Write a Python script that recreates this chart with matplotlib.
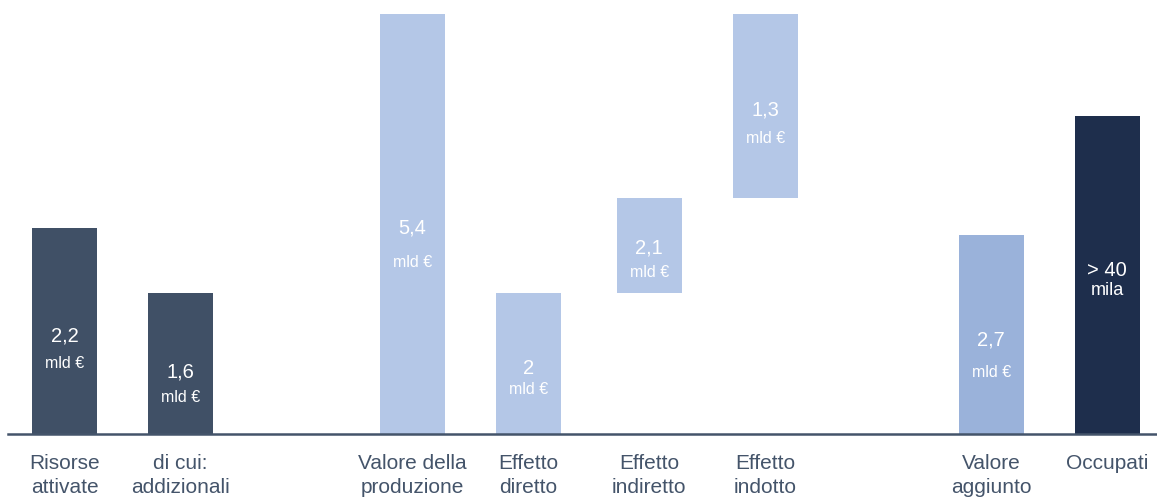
import matplotlib
matplotlib.use("Agg")
import matplotlib.pyplot as plt

# ---- data ----
categories = ["Risorse\nattivate", "di cui:\naddizionali", "Valore della\nproduzione",
              "Effetto\ndiretto", "Effetto\nindiretto", "Effetto\nindotto",
              "Valore\naggiunto", "Occupati"]
value_labels = ["2,2", "1,6", "5,4", "2", "2,1", "1,3", "2,7", "> 40"]
unit_labels = ["mld €", "mld €", "mld €", "mld €", "mld €", "mld €", "mld €", "mila"]
# drawn bar extents (visual units, baseline = 0)
bar_bottoms = [0, 0, 0, 0, 141, 236, 0, 0]
bar_heights = [206, 141, 420, 141, 95, 184, 199, 318]

# ---- layout / style ----
slots = [0, 1, 3, 4, 5.04, 6.04, 7.99, 8.99]
colors = ["#405066", "#405066", "#b4c7e7", "#b4c7e7", "#b4c7e7", "#b4c7e7",
          "#9ab2da", "#1e2e4c"]
value_shift = [-11, -13.5, -9, -10.5, -7.5, -9, -10.5, -1]
unit_gap = [26, 25, 34, 20, 24, 28, 32, 19]
unit_sizes = [11.5, 11.5, 11.5, 11.5, 11.5, 11.5, 11.5, 13]

plt.rcParams['font.family'] = ['Liberation Sans', 'DejaVu Sans']

W, H = 1157, 497
fig = plt.figure(figsize=(W / 100, H / 100), dpi=100)
ax = fig.add_axes([0, 0, 1, 1])
step = 116.0
x0 = 64.5
ax.set_xlim(-x0 / step, (W - x0) / step)
ax.set_ylim(-(H - 434), 434)
ax.axis('off')

ax.bar(slots, bar_heights, bottom=bar_bottoms, width=65 / step, color=colors,
       edgecolor='none', zorder=2)
ax.axhline(0, xmin=8 / W, xmax=1.0, color="#44546a", lw=1.8, zorder=3)

for i, x in enumerate(slots):
    vb = bar_bottoms[i] + bar_heights[i] / 2 + value_shift[i]
    ax.text(x, vb, value_labels[i], ha='center', va='baseline', color='white',
            fontsize=14.5, zorder=4)
    ax.text(x, vb - unit_gap[i], unit_labels[i], ha='center', va='baseline',
            color='white', fontsize=unit_sizes[i], zorder=4)
    for j, line in enumerate(categories[i].split("\n")):
        ax.text(x, -35 - 24 * j, line, ha='center', va='baseline',
                color="#44546a", fontsize=15, zorder=4)

fig.savefig("out.png", dpi=100)
